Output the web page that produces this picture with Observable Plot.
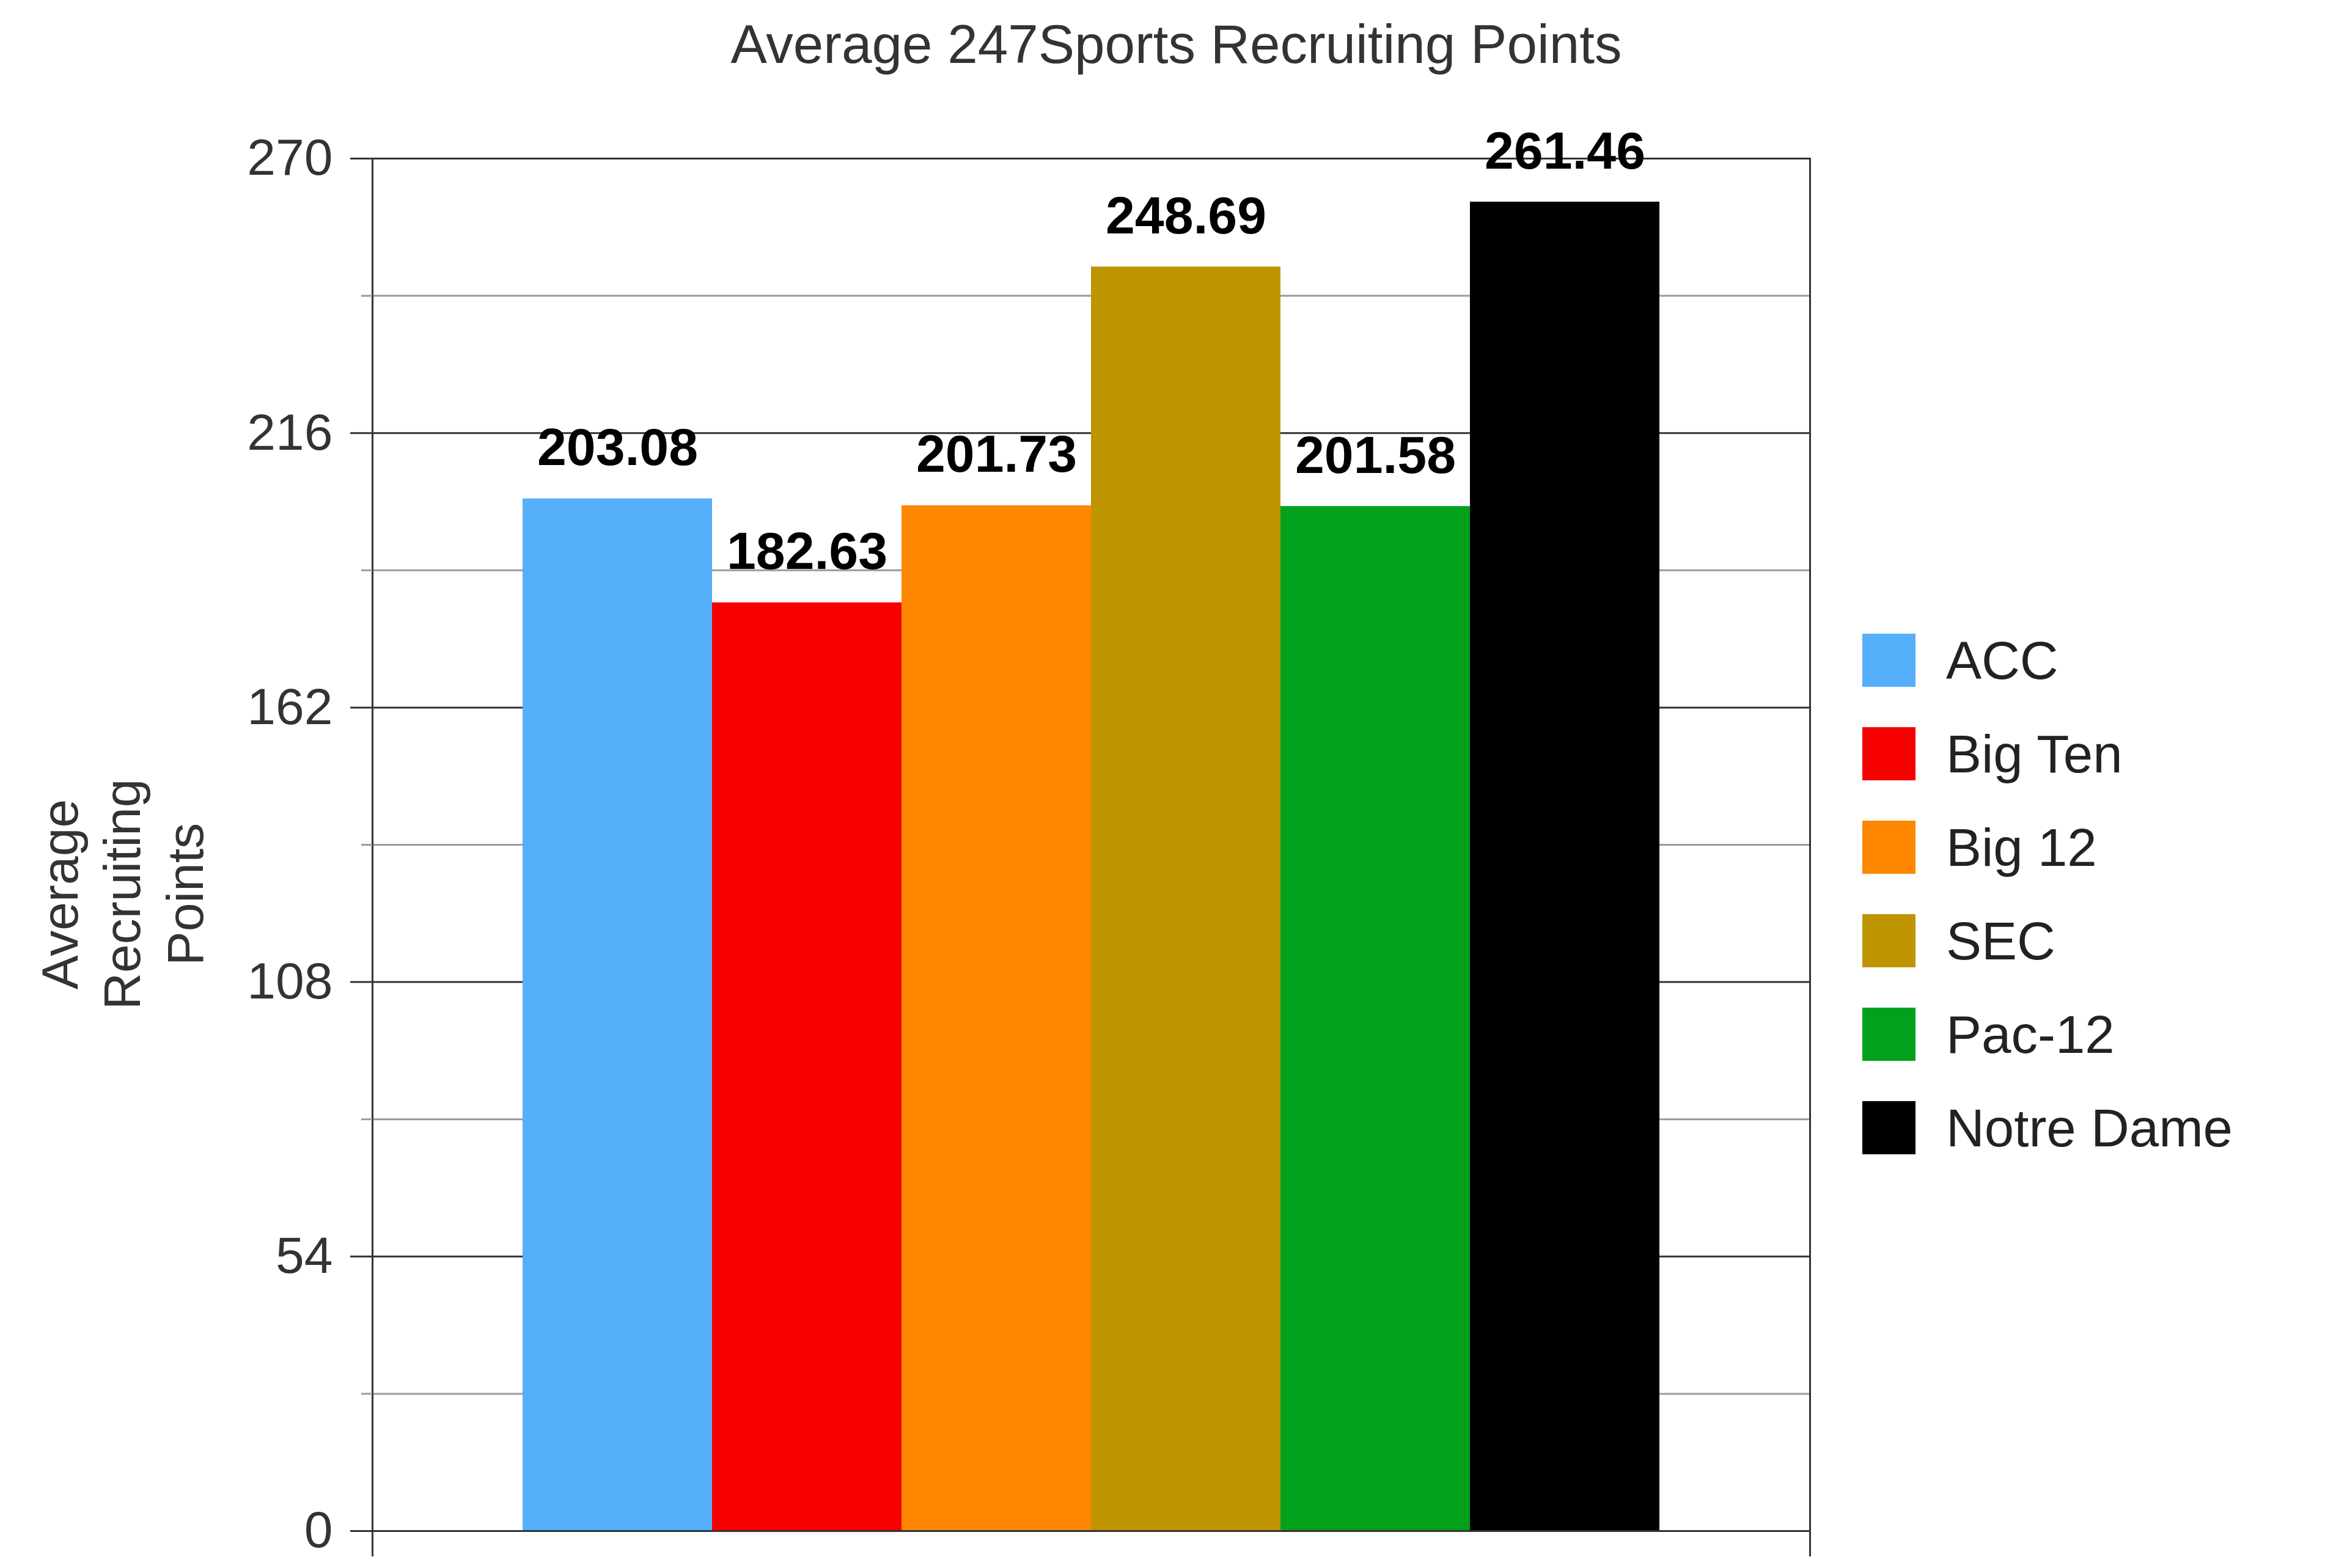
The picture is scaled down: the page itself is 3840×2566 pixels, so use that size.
<!DOCTYPE html>
<html>
<head>
<meta charset="utf-8">
<script src="https://cdn.jsdelivr.net/npm/d3@7"></script>
<script src="https://cdn.jsdelivr.net/npm/@observablehq/plot@0.6"></script>
<style>
  html, body { margin: 0; padding: 0; background: #fff; }
  #page { position: relative; width: 3840px; height: 2566px; background: #fff; font-family: "Liberation Sans", Arial, sans-serif; }
  #title { box-sizing: border-box; height: 160px; padding-top: 28px; padding-left: 9px; font-size: 89px; line-height: 1; text-align: center; color: #333; }
  #legend { position: absolute; left: 3047px; top: 1037px; }
  .row { position: relative; height: 153px; }
  .sw { position: absolute; left: 0; top: 0; width: 87px; height: 87px; }
  .lab { position: absolute; left: 137px; top: 43px; transform: translateY(-50%); font-size: 87px; line-height: 1; color: #222; white-space: nowrap; }
</style>
</head>
<body>
<div id="page">
  <div id="title">Average 247Sports Recruiting Points</div>
  <div id="chart"></div>
  <div id="legend"></div>
</div>
<script>
const conferences = ["ACC", "Big Ten", "Big 12", "SEC", "Pac-12", "Notre Dame"];
const points = [203.08, 182.63, 201.73, 248.69, 201.58, 261.46];
const barColors = ["#55AFFA", "#F70000", "#FD8700", "#BE9400", "#03A11B", "#000000"];
const majorTicks = [0, 54, 108, 162, 216, 270];
const minorTicks = [27, 81, 135, 189, 243];
const yTitle = "Average\nRecruiting\nPoints";

const data = conferences.map((c, i) => ({conf: c, value: points[i]}));

const chart = Plot.plot({
  width: 3840,
  height: 2406,
  marginLeft: 609,
  marginRight: 879,
  marginTop: 99,
  marginBottom: 61,
  style: {fontFamily: "Liberation Sans, Arial, sans-serif", background: "#fff"},
  x: {domain: conferences, paddingInner: 0, paddingOuter: 0.785, axis: null},
  y: {domain: [0, 270], axis: null},
  color: {domain: conferences, range: barColors},
  marks: [
    Plot.ruleY(minorTicks, {stroke: "#9a9a9a", strokeWidth: 3}),
    Plot.ruleY(majorTicks, {stroke: "#333", strokeWidth: 3}),
    Plot.barY(data, {x: "conf", y: "value", fill: "conf"}),
    Plot.frame({anchor: "left", stroke: "#333", strokeWidth: 3, insetBottom: -40}),
    Plot.frame({anchor: "right", stroke: "#333", strokeWidth: 3, insetBottom: -40}),
    Plot.ruleY([0], {stroke: "#333", strokeWidth: 3}),
    Plot.axisY(minorTicks, {tickSize: 18, tickFormat: () => "", stroke: "#9a9a9a", strokeWidth: 3, label: null}),
    Plot.axisY(majorTicks, {tickSize: 36, tickPadding: 29, tickFormat: d => String(d), fontSize: 84, color: "#333", strokeWidth: 3, label: null}),
    Plot.text(data, {x: "conf", y: "value", text: d => d.value.toFixed(2), dy: -55, lineAnchor: "bottom", fontWeight: "bold", fontSize: 86, fill: "#000"}),
    Plot.text([yTitle], {frameAnchor: "left", rotate: -90, dx: -413, dy: 81, lineAnchor: "middle", textAnchor: "middle", lineHeight: 1.22, fontSize: 84, fill: "#333"})
  ]
});
document.getElementById("chart").appendChild(chart);

const legend = d3.select("#legend");
conferences.forEach((c, i) => {
  const row = legend.append("div").attr("class", "row");
  row.append("div").attr("class", "sw").style("background", barColors[i]);
  row.append("div").attr("class", "lab").text(c);
});
</script>
</body>
</html>
